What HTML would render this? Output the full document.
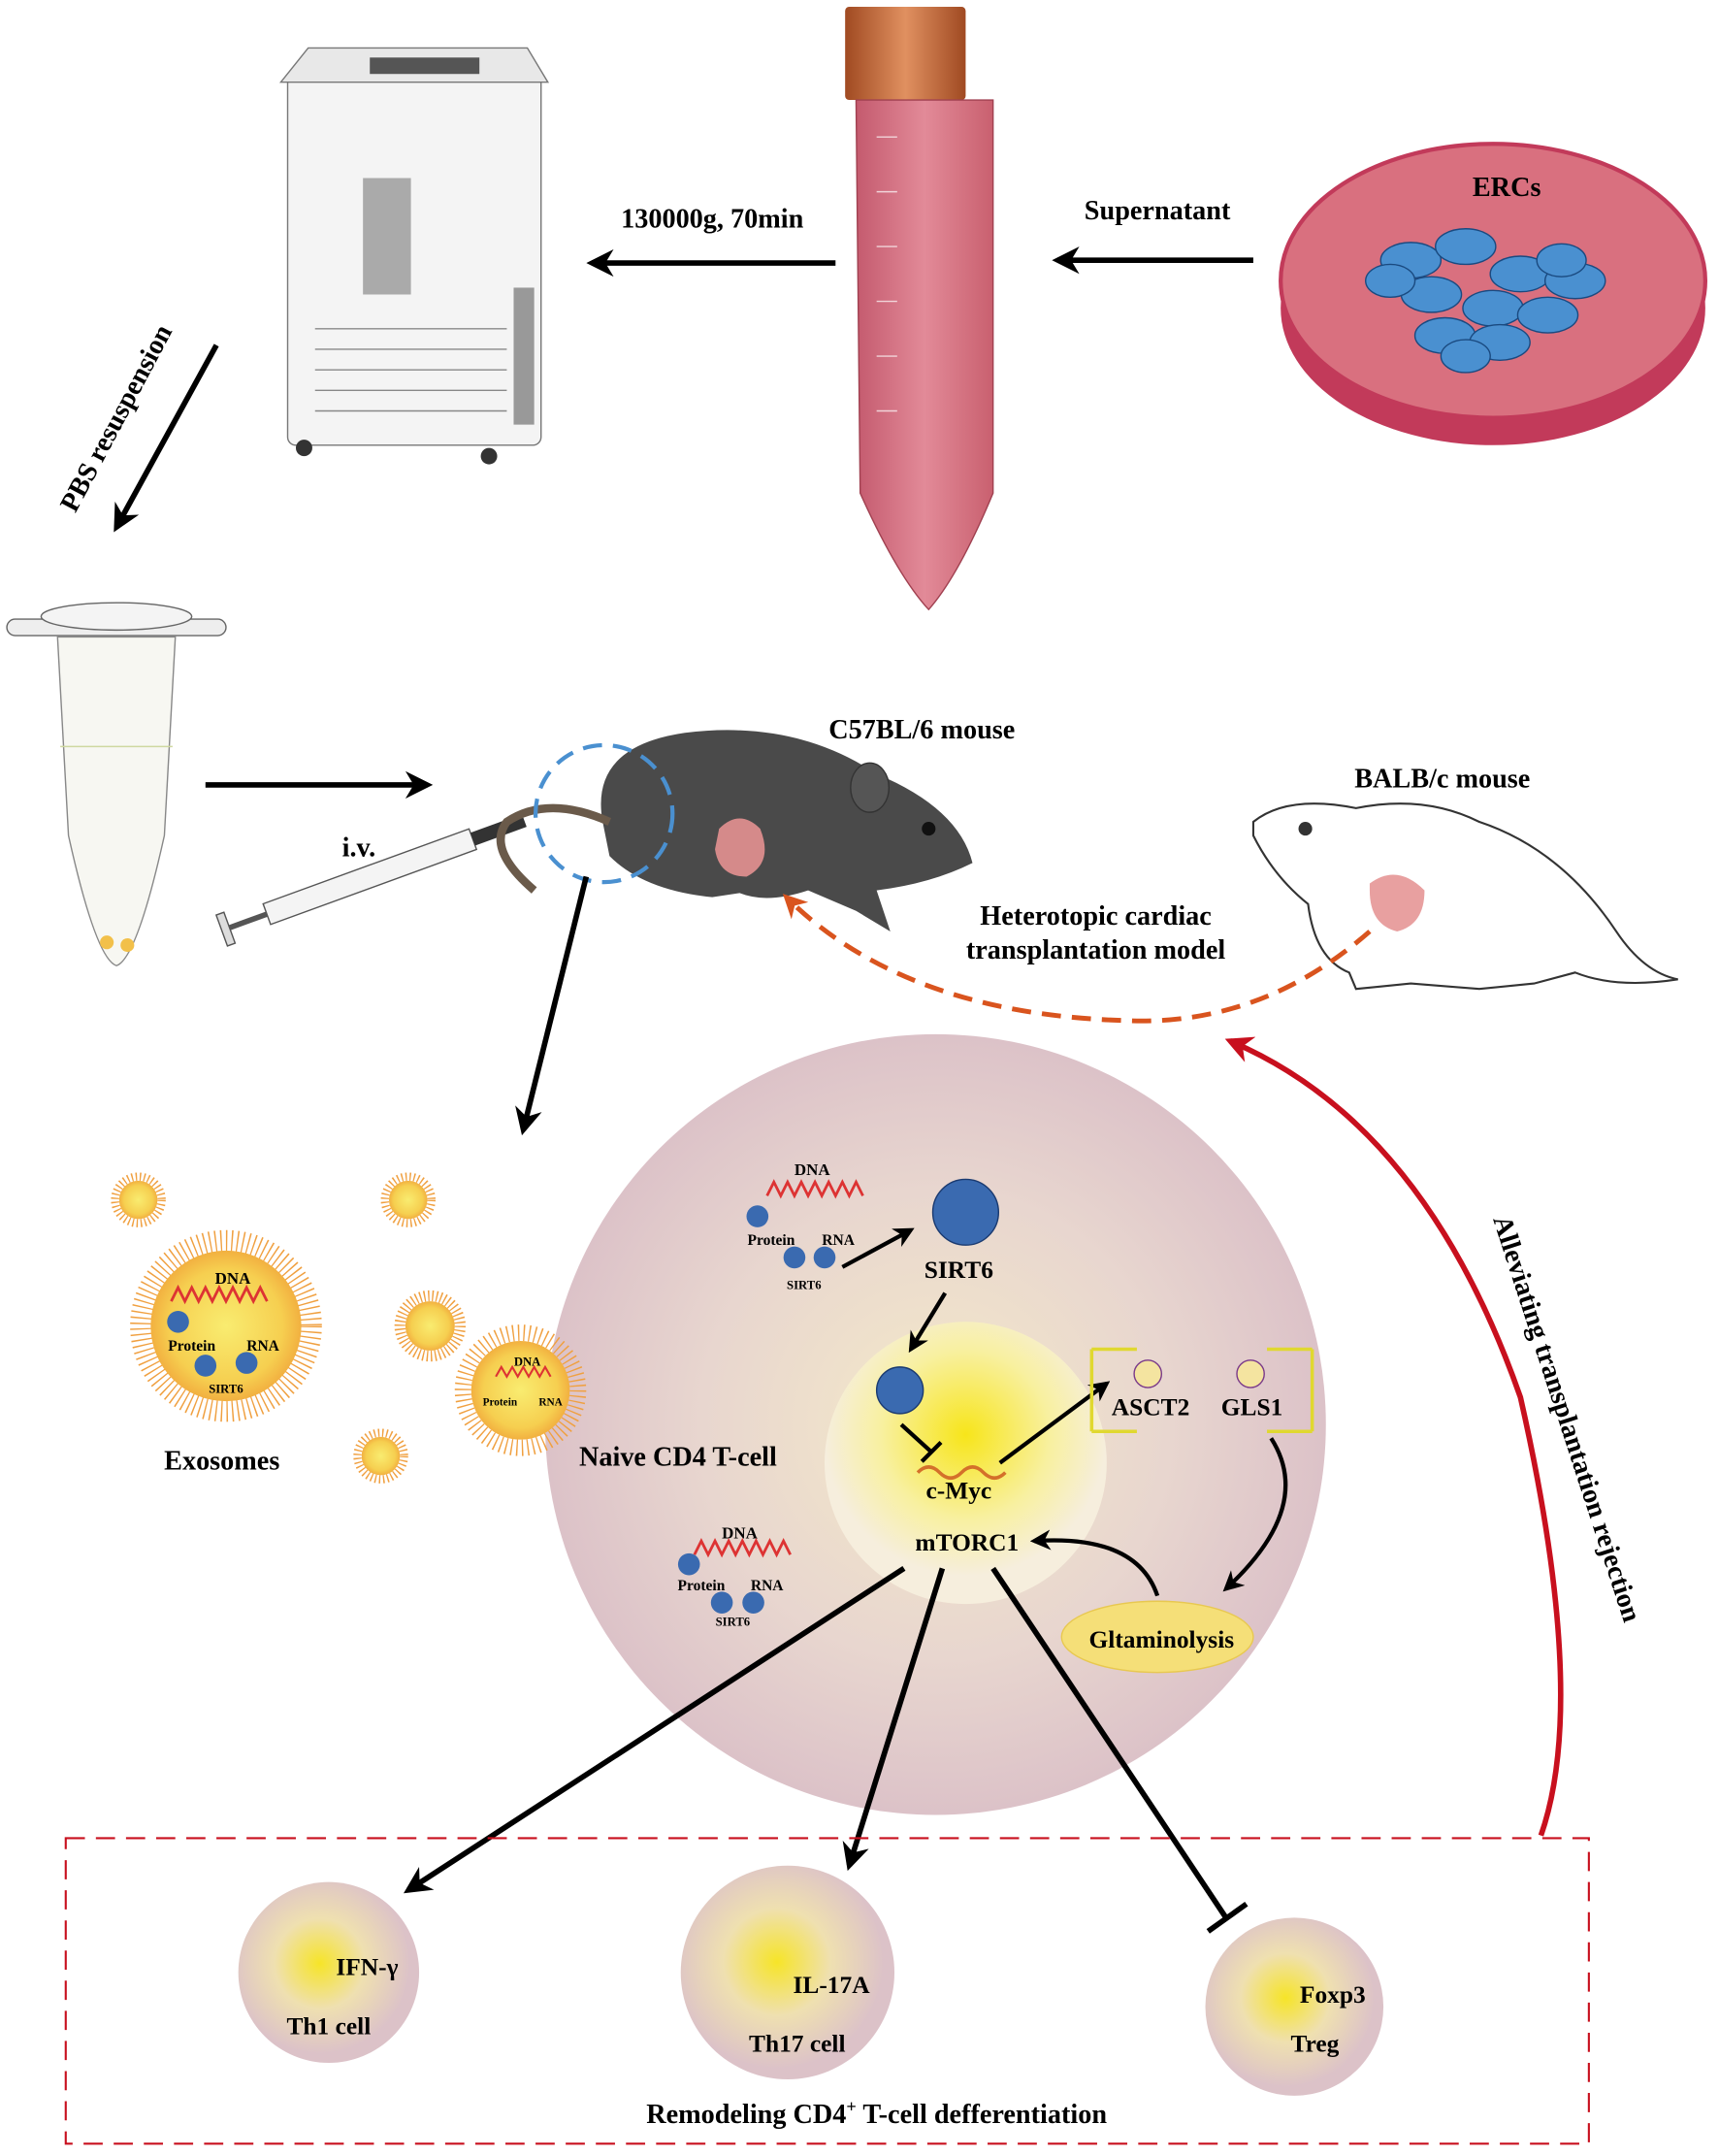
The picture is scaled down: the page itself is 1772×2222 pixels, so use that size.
<!DOCTYPE html>
<html><head><meta charset="utf-8"><style>
html,body{margin:0;padding:0;background:#fff;}
svg{display:block;}
text{font-family:"Liberation Serif",serif;font-weight:bold;}
</style></head><body>
<svg width="1772" height="2222" viewBox="0 0 1255 1574" preserveAspectRatio="none" xmlns="http://www.w3.org/2000/svg">
<defs>
<marker id="ah" viewBox="0 0 10 10" refX="8" refY="5" markerWidth="5" markerHeight="5" orient="auto"><path d="M0,0 L10,5 L0,10 L3,5z" fill="#000"/></marker>
<marker id="ahr" viewBox="0 0 10 10" refX="8" refY="5" markerWidth="5" markerHeight="5" orient="auto"><path d="M0,0 L10,5 L0,10 L3,5z" fill="#c8101e"/></marker>
<marker id="aho" viewBox="0 0 10 10" refX="8" refY="5" markerWidth="5" markerHeight="5" orient="auto"><path d="M0,0 L10,5 L0,10 L3,5z" fill="#d9541e"/></marker>
<radialGradient id="cell" cx="0.5" cy="0.5" r="0.5"><stop offset="0" stop-color="#f4e9c8"/><stop offset="0.6" stop-color="#e8d6cf"/><stop offset="1" stop-color="#dcc2c8"/></radialGradient>
<radialGradient id="nuc" cx="0.5" cy="0.4" r="0.5"><stop offset="0" stop-color="#f7e51a"/><stop offset="0.6" stop-color="#f8f0a0"/><stop offset="1" stop-color="#f6eedd"/></radialGradient>
<radialGradient id="sm" cx="0.45" cy="0.45" r="0.5"><stop offset="0" stop-color="#f6e428"/><stop offset="0.5" stop-color="#efe0b0"/><stop offset="1" stop-color="#dcc2c8"/></radialGradient>
<radialGradient id="exo" cx="0.5" cy="0.5" r="0.5"><stop offset="0" stop-color="#f9ec70"/><stop offset="0.75" stop-color="#f6cf50"/><stop offset="1" stop-color="#f2b040"/></radialGradient>
<linearGradient id="tube" x1="0" x2="1"><stop offset="0" stop-color="#c45a6e"/><stop offset="0.5" stop-color="#e28a98"/><stop offset="1" stop-color="#c9606f"/></linearGradient>
<linearGradient id="cap" x1="0" x2="1"><stop offset="0" stop-color="#a04a22"/><stop offset="0.5" stop-color="#e09060"/><stop offset="1" stop-color="#a04a22"/></linearGradient>
</defs>

<!-- centrifuge -->
<rect x="210" y="55" width="185" height="270" rx="6" fill="#f4f4f4" stroke="#777"/>
<path d="M205,60 L225,35 L385,35 L400,60z" fill="#e8e8e8" stroke="#777"/>
<rect x="265" y="130" width="35" height="85" fill="#aaa"/>
<g stroke="#888"><line x1="230" y1="240" x2="370" y2="240"/><line x1="230" y1="255" x2="370" y2="255"/><line x1="230" y1="270" x2="370" y2="270"/><line x1="230" y1="285" x2="370" y2="285"/><line x1="230" y1="300" x2="370" y2="300"/></g>
<rect x="375" y="210" width="15" height="100" fill="#999"/>
<circle cx="222" cy="327" r="6" fill="#333"/><circle cx="357" cy="333" r="6" fill="#333"/>
<rect x="270" y="42" width="80" height="12" fill="#555"/>

<!-- tube -->
<rect x="617" y="5" width="88" height="68" rx="3" fill="url(#cap)"/>
<path d="M625,73 L725,73 L725,360 Q700,420 678,445 Q655,420 628,360z" fill="url(#tube)" stroke="#a04050"/>
<g stroke="#fff" opacity="0.7"><line x1="640" y1="100" x2="655" y2="100"/><line x1="640" y1="140" x2="655" y2="140"/><line x1="640" y1="180" x2="655" y2="180"/><line x1="640" y1="220" x2="655" y2="220"/><line x1="640" y1="260" x2="655" y2="260"/><line x1="640" y1="300" x2="655" y2="300"/></g>

<!-- petri -->
<ellipse cx="1090" cy="225" rx="155" ry="100" fill="#c23a5a"/>
<ellipse cx="1090" cy="205" rx="155" ry="100" fill="#d9707f" stroke="#c23a5a" stroke-width="3"/>
<g fill="#4a90d0" stroke="#1a4a80">
<ellipse cx="1030" cy="190" rx="22" ry="13"/><ellipse cx="1070" cy="180" rx="22" ry="13"/><ellipse cx="1110" cy="200" rx="22" ry="13"/><ellipse cx="1150" cy="205" rx="22" ry="13"/><ellipse cx="1045" cy="215" rx="22" ry="13"/><ellipse cx="1090" cy="225" rx="22" ry="13"/><ellipse cx="1130" cy="230" rx="22" ry="13"/><ellipse cx="1055" cy="245" rx="22" ry="13"/><ellipse cx="1095" cy="250" rx="22" ry="13"/><ellipse cx="1140" cy="190" rx="18" ry="12"/><ellipse cx="1015" cy="205" rx="18" ry="12"/><ellipse cx="1070" cy="260" rx="18" ry="12"/></g>
<text x="1100" y="143" font-size="20" text-anchor="middle">ERCs</text>

<!-- top arrows -->
<line x1="610" y1="192" x2="432" y2="192" stroke="#000" stroke-width="4" marker-end="url(#ah)"/>
<text x="520" y="166" font-size="20" text-anchor="middle">130000g, 70min</text>
<line x1="915" y1="190" x2="772" y2="190" stroke="#000" stroke-width="4" marker-end="url(#ah)"/>
<text x="845" y="160" font-size="20" text-anchor="middle">Supernatant</text>
<line x1="158" y1="252" x2="85" y2="385" stroke="#000" stroke-width="4" marker-end="url(#ah)"/>
<text x="0" y="0" font-size="20" transform="translate(55,375) rotate(-62)">PBS resuspension</text>

<!-- eppendorf -->
<rect x="5" y="452" width="160" height="12" rx="6" fill="#eee" stroke="#666"/>
<ellipse cx="85" cy="450" rx="55" ry="10" fill="#f4f4f4" stroke="#666"/>
<path d="M42,465 L128,465 L120,610 Q100,700 85,705 Q70,700 50,610z" fill="#f7f7f2" stroke="#888"/>
<line x1="44" y1="545" x2="126" y2="545" stroke="#cfd8a0"/>
<circle cx="78" cy="688" r="5" fill="#f2c04a"/><circle cx="93" cy="690" r="5" fill="#f2c04a"/>

<line x1="150" y1="573" x2="312" y2="573" stroke="#000" stroke-width="4" marker-end="url(#ah)"/>
<text x="262" y="625" font-size="20" text-anchor="middle">i.v.</text>

<!-- syringe -->
<g transform="rotate(-20 270 640)">
<rect x="190" y="632" width="160" height="16" fill="#f4f4f4" stroke="#555"/>
<rect x="350" y="635" width="40" height="10" fill="#333"/>
<line x1="160" y1="640" x2="190" y2="640" stroke="#555" stroke-width="4"/>
<rect x="155" y="628" width="6" height="24" fill="#ddd" stroke="#555"/>
</g>

<!-- dark mouse -->
<path d="M440,600 Q430,545 500,535 Q580,525 640,565 Q700,590 710,630 Q680,645 640,650 L650,680 L625,665 L590,650 Q560,660 540,652 L520,655 Q470,650 445,625z" fill="#4a4a4a"/>
<ellipse cx="635" cy="575" rx="14" ry="18" fill="#555" stroke="#333"/>
<circle cx="678" cy="605" r="5" fill="#111"/>
<path d="M445,600 Q400,580 370,600 Q355,620 390,650" fill="none" stroke="#6a5a4a" stroke-width="6"/>
<path d="M525,605 Q540,590 555,605 Q565,630 545,640 Q525,640 522,620z" fill="#d58a8a"/>
<circle cx="441" cy="594" r="50" fill="none" stroke="#4a90d0" stroke-width="3" stroke-dasharray="14 8"/>
<text x="673" y="539" font-size="20" text-anchor="middle">C57BL/6 mouse</text>

<!-- BALB/c -->
<path d="M915,600 Q940,580 990,590 Q1040,580 1080,600 Q1140,620 1180,680 Q1200,710 1225,715 Q1180,722 1150,710 L1120,718 L1080,722 L1030,718 L990,722 L985,710 Q960,700 955,660 Q930,640 915,610z" fill="#fff" stroke="#333" stroke-width="1.5"/>
<circle cx="953" cy="605" r="5" fill="#333"/>
<path d="M1000,645 Q1020,630 1040,650 Q1040,675 1020,680 Q1000,675 1000,650z" fill="#e8a0a0"/>
<text x="1053" y="575" font-size="20" text-anchor="middle">BALB/c mouse</text>
<text x="800" y="675" font-size="20" text-anchor="middle">Heterotopic cardiac</text>
<text x="800" y="700" font-size="20" text-anchor="middle">transplantation model</text>
<path d="M1000,680 Q920,750 820,745 Q660,740 574,655" fill="none" stroke="#d9541e" stroke-width="3.5" stroke-dasharray="14 8" marker-end="url(#aho)"/>

<!-- red arrow -->
<path d="M1125,1340 Q1160,1240 1110,1020 Q1040,820 898,760" fill="none" stroke="#c8101e" stroke-width="4" marker-end="url(#ahr)"/>
<text font-size="20" transform="translate(1090,890) rotate(72)">Alleviating transplantation rejection</text>

<line x1="428" y1="640" x2="382" y2="825" stroke="#000" stroke-width="4" marker-end="url(#ah)"/>

<!-- exosomes -->
<g>
<circle cx="165" cy="968" r="62" fill="none" stroke="#f0a040" stroke-width="16" stroke-dasharray="1 3"/>
<circle cx="165" cy="968" r="55" fill="url(#exo)"/>
<circle cx="101" cy="876" r="17" fill="none" stroke="#f0a040" stroke-width="6" stroke-dasharray="1 2"/>
<circle cx="101" cy="876" r="14" fill="url(#exo)"/>
<circle cx="298" cy="876" r="17" fill="none" stroke="#f0a040" stroke-width="6" stroke-dasharray="1 2"/>
<circle cx="298" cy="876" r="14" fill="url(#exo)"/>
<circle cx="314" cy="968" r="22" fill="none" stroke="#f0a040" stroke-width="8" stroke-dasharray="1 2"/>
<circle cx="314" cy="968" r="18" fill="url(#exo)"/>
<circle cx="278" cy="1063" r="17" fill="none" stroke="#f0a040" stroke-width="6" stroke-dasharray="1 2"/>
<circle cx="278" cy="1063" r="14" fill="url(#exo)"/>
<text x="170" y="937" font-size="12" text-anchor="middle">DNA</text>
<path d="M125,950 l5,-10 l5,10 l5,-10 l5,10 l5,-10 l5,10 l5,-10 l5,10 l5,-10 l5,10 l5,-10 l5,10 l5,-10 l5,10" fill="none" stroke="#d33" stroke-width="2"/>
<circle cx="130" cy="965" r="8" fill="#3a6ab0"/><circle cx="180" cy="995" r="8" fill="#3a6ab0"/><circle cx="150" cy="997" r="8" fill="#3a6ab0"/>
<text x="140" y="986" font-size="11" text-anchor="middle">Protein</text><text x="192" y="986" font-size="11" text-anchor="middle">RNA</text><text x="165" y="1017" font-size="9" text-anchor="middle">SIRT6</text>
</g>
<text x="162" y="1073" font-size="20" text-anchor="middle">Exosomes</text>

<!-- main cell -->
<circle cx="683" cy="1040" r="285" fill="url(#cell)"/>
<circle cx="380" cy="1015" r="42" fill="none" stroke="#f0a040" stroke-width="12" stroke-dasharray="1 3"/>
<circle cx="380" cy="1015" r="36" fill="url(#exo)"/>
<text x="385" y="997" font-size="9" text-anchor="middle">DNA</text>
<path d="M362,1005 l4,-7 l4,7 l4,-7 l4,7 l4,-7 l4,7 l4,-7 l4,7 l4,-7 l4,7" fill="none" stroke="#d33" stroke-width="1.5"/>
<text x="365" y="1026" font-size="8" text-anchor="middle">Protein</text><text x="402" y="1026" font-size="8" text-anchor="middle">RNA</text>
<circle cx="683" cy="1040" r="0" fill="none"/>
<circle cx="705" cy="1068" r="103" fill="url(#nuc)"/>
<text x="593" y="858" font-size="12" text-anchor="middle">DNA</text>
<path d="M560,873 l5,-10 l5,10 l5,-10 l5,10 l5,-10 l5,10 l5,-10 l5,10 l5,-10 l5,10 l5,-10 l5,10 l5,-10 l5,10" fill="none" stroke="#d33" stroke-width="2"/>
<circle cx="553" cy="888" r="8" fill="#3a6ab0"/><circle cx="580" cy="918" r="8" fill="#3a6ab0"/><circle cx="602" cy="918" r="8" fill="#3a6ab0"/>
<text x="563" y="909" font-size="11" text-anchor="middle">Protein</text><text x="612" y="909" font-size="11" text-anchor="middle">RNA</text><text x="587" y="941" font-size="9" text-anchor="middle">SIRT6</text>
<line x1="615" y1="925" x2="665" y2="898" stroke="#000" stroke-width="3" marker-end="url(#ah)"/>
<circle cx="705" cy="885" r="24" fill="#3a6ab0" stroke="#1a3a70"/>
<text x="700" y="933" font-size="18" text-anchor="middle">SIRT6</text>
<line x1="690" y1="944" x2="665" y2="985" stroke="#000" stroke-width="3" marker-end="url(#ah)"/>
<circle cx="657" cy="1015" r="17" fill="#3a6ab0" stroke="#1a3a70"/>
<line x1="658" y1="1040" x2="680" y2="1060" stroke="#000" stroke-width="3"/>
<line x1="673" y1="1067" x2="687" y2="1053" stroke="#000" stroke-width="3"/>
<path d="M670,1075 q8,-8 16,0 t16,0 t16,0 t16,0" fill="none" stroke="#d4702a" stroke-width="2.5"/>
<text x="700" y="1094" font-size="18" text-anchor="middle">c-Myc</text>
<line x1="730" y1="1068" x2="808" y2="1010" stroke="#000" stroke-width="3" marker-end="url(#ah)"/>
<text x="706" y="1132" font-size="18" text-anchor="middle">mTORC1</text>
<path d="M797,985 L797,1045 M797,985 L830,985 M797,1045 L830,1045 M958,985 L958,1045 M958,985 L925,985 M958,1045 L925,1045" fill="none" stroke="#e0d830" stroke-width="2.5"/>
<circle cx="838" cy="1003" r="10" fill="#f4e4a0" stroke="#7a3a8a"/><circle cx="913" cy="1003" r="10" fill="#f4e4a0" stroke="#7a3a8a"/>
<text x="840" y="1033" font-size="18" text-anchor="middle">ASCT2</text>
<text x="914" y="1033" font-size="18" text-anchor="middle">GLS1</text>
<path d="M928,1050 Q960,1100 895,1160" fill="none" stroke="#000" stroke-width="3" marker-end="url(#ah)"/>
<ellipse cx="845" cy="1195" rx="70" ry="26" fill="#f5df78" stroke="#e8c850"/>
<text x="848" y="1203" font-size="18" text-anchor="middle">Gltaminolysis</text>
<path d="M845,1165 Q830,1120 755,1125" fill="none" stroke="#000" stroke-width="3" marker-end="url(#ah)"/>
<text x="495" y="1070" font-size="20" text-anchor="middle">Naive CD4  T-cell</text>
<text x="540" y="1123" font-size="12" text-anchor="middle">DNA</text>
<path d="M507,1135 l5,-10 l5,10 l5,-10 l5,10 l5,-10 l5,10 l5,-10 l5,10 l5,-10 l5,10 l5,-10 l5,10 l5,-10 l5,10" fill="none" stroke="#d33" stroke-width="2"/>
<circle cx="503" cy="1142" r="8" fill="#3a6ab0"/><circle cx="527" cy="1170" r="8" fill="#3a6ab0"/><circle cx="550" cy="1170" r="8" fill="#3a6ab0"/>
<text x="512" y="1161" font-size="11" text-anchor="middle">Protein</text><text x="560" y="1161" font-size="11" text-anchor="middle">RNA</text><text x="535" y="1187" font-size="9" text-anchor="middle">SIRT6</text>

<!-- differentiation arrows -->
<line x1="660" y1="1145" x2="298" y2="1380" stroke="#000" stroke-width="4" marker-end="url(#ah)"/>
<line x1="688" y1="1145" x2="620" y2="1362" stroke="#000" stroke-width="4" marker-end="url(#ah)"/>
<line x1="725" y1="1145" x2="895" y2="1400" stroke="#000" stroke-width="4"/>
<line x1="882" y1="1410" x2="910" y2="1390" stroke="#000" stroke-width="4"/>

<rect x="48" y="1342" width="1112" height="223" fill="none" stroke="#c8101e" stroke-width="1.5" stroke-dasharray="14 8"/>
<circle cx="240" cy="1440" r="66" fill="url(#sm)"/>
<text x="268" y="1442" font-size="18" text-anchor="middle">IFN-γ</text><text x="240" y="1485" font-size="18" text-anchor="middle">Th1 cell</text>
<circle cx="575" cy="1440" r="78" fill="url(#sm)"/>
<text x="607" y="1455" font-size="18" text-anchor="middle">IL-17A</text><text x="582" y="1498" font-size="18" text-anchor="middle">Th17 cell</text>
<circle cx="945" cy="1465" r="65" fill="url(#sm)"/>
<text x="973" y="1462" font-size="18" text-anchor="middle">Foxp3</text><text x="960" y="1498" font-size="18" text-anchor="middle">Treg</text>
<text x="640" y="1550" font-size="20" text-anchor="middle">Remodeling CD4<tspan font-size="13" dy="-8">+</tspan><tspan dy="8"> T-cell defferentiation</tspan></text>
</svg>
</body></html>
